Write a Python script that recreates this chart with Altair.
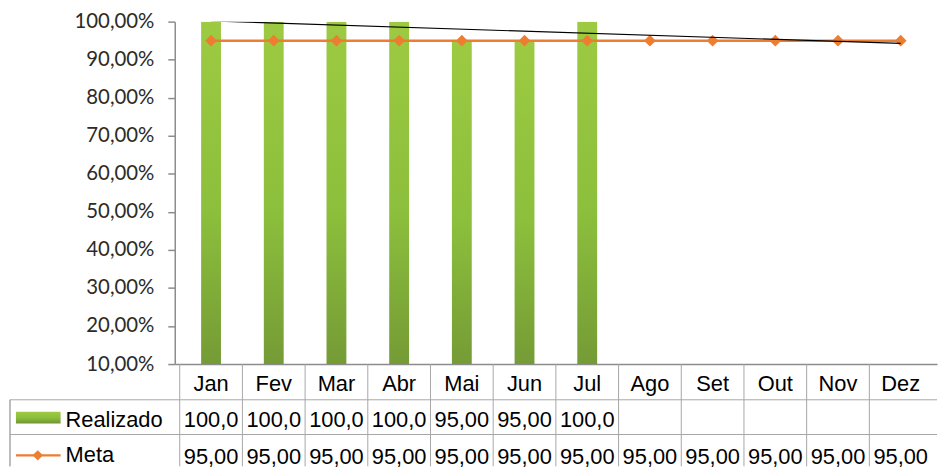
import altair as alt
import pandas as pd

months = ["Jan", "Fev", "Mar", "Abr", "Mai", "Jun", "Jul", "Ago", "Set", "Out", "Nov", "Dez"]
realizado = [100, 100, 100, 100, 95, 95, 100, None, None, None, None, None]
meta = [95, 95, 95, 95, 95, 95, 95, 95, 95, 95, 95, 95]
y_ticks = [10, 20, 30, 40, 50, 60, 70, 80, 90, 100]
series = ["Realizado", "Meta"]

df = pd.DataFrame({"mes": months, "idx": list(range(1, len(months) + 1)),
                   "realizado": realizado, "meta": meta})
rows_df = pd.DataFrame({"serie": series, "linha": list(range(len(series)))})

W, H = 768, 345
HEAD = 36          # header row height (month names)
ROW = 35           # data row height
BOTTOM = 448
LEFT = -166        # left edge of label column (relative to plot)

GREEN = alt.Gradient(
    gradient="linear",
    stops=[alt.GradientStop(color="#9dca42", offset=0),
           alt.GradientStop(color="#8cbf3c", offset=0.5),
           alt.GradientStop(color="#6f9234", offset=1)],
    x1=0, x2=0, y1=0, y2=1)
ORANGE = "#ed7d31"
GRID = "#a6a6a6"
AXIS = "#8c8c8c"
TFONT = "Liberation Sans"

xscale = alt.Scale(domain=[0.5, len(months) + 0.5], nice=False, zero=False)
xaxis = alt.Axis(labels=False, ticks=False, grid=False, title=None,
                 domainColor=AXIS, domainWidth=1.5)
yscale = alt.Scale(domain=[10, 100], nice=False, zero=False)
yaxis = alt.Axis(values=y_ticks, grid=False, title=None,
                 labelExpr="replace(format(datum.value, '.2f'), '.', ',') + '%'",
                 labelFont="Lato", labelFontSize=20.5, labelColor="#2b2b2b",
                 labelPadding=14, tickSize=7, tickColor=AXIS, tickWidth=1.5,
                 domainColor=AXIS, domainWidth=1.5)

X = alt.X("idx:Q", scale=xscale, axis=xaxis)

bars = alt.Chart(df).mark_bar(width=20, color=GREEN, clip=True).encode(
    x=X, y=alt.Y("realizado:Q", scale=yscale, axis=yaxis))

meta_line = alt.Chart(df).mark_line(color=ORANGE, strokeWidth=2.5).encode(
    x=X, y=alt.Y("meta:Q", scale=yscale, axis=yaxis))
meta_pts = alt.Chart(df).mark_point(shape="diamond", filled=True, size=140,
                                    color=ORANGE, opacity=1).encode(
    x=X, y=alt.Y("meta:Q", scale=yscale, axis=yaxis))

trend = alt.Chart(df).transform_filter("isValid(datum.realizado)").transform_regression(
    "idx", "realizado", extent=[1, len(months)]
).mark_line(color="black", strokeWidth=1.1, clip=True).encode(
    x=X, y=alt.Y("realizado:Q", scale=yscale, axis=yaxis))

# ---- data table under the plot ----
month_txt = alt.Chart(df).mark_text(font=TFONT, fontSize=22, baseline="alphabetic",
                                    align="center", color="black").encode(
    x=X, y=alt.value(H + 27), text="mes:N")

vlines = alt.Chart(df).transform_calculate(b="datum.idx - 0.5").mark_rule(
    color=GRID, strokeWidth=1).encode(
    x=alt.X("b:Q", scale=xscale, axis=xaxis), y=alt.value(H), y2=alt.value(BOTTOM))

hlines = alt.Chart(rows_df).transform_calculate(
    yp=f"{H + HEAD} + {ROW} * datum.linha").mark_rule(color=GRID, strokeWidth=1).encode(
    x=alt.value(LEFT), x2=alt.value(W), y=alt.Y("yp:Q", scale=None))

left_line = alt.Chart(rows_df).mark_rule(color=GRID, strokeWidth=1).encode(
    x=alt.value(LEFT), y=alt.value(H + HEAD), y2=alt.value(BOTTOM))

row_labels = alt.Chart(rows_df).transform_calculate(
    yp=f"{H + HEAD + 27} + {ROW + 1} * datum.linha").mark_text(
    font=TFONT, fontSize=22, baseline="alphabetic", align="left", color="black").encode(
    x=alt.value(LEFT + 56), y=alt.Y("yp:Q", scale=None), text="serie:N")

real_txt = alt.Chart(df).transform_filter("isValid(datum.realizado)").transform_calculate(
    t="substring(replace(format(datum.realizado, '.2f'), '.', ','), 0, 5)").mark_text(
    font=TFONT, fontSize=22, baseline="alphabetic", align="center", color="black").encode(
    x=X, y=alt.value(H + HEAD + 27), text="t:N")

meta_txt = alt.Chart(df).transform_calculate(
    t="substring(replace(format(datum.meta, '.2f'), '.', ','), 0, 5)").mark_text(
    font=TFONT, fontSize=22, baseline="alphabetic", align="center", color="black").encode(
    x=X, y=alt.value(H + HEAD + ROW + 30), text="t:N")

sw_real = alt.Chart(rows_df).transform_filter("datum.linha == 0").mark_rect(color=GREEN).encode(
    x=alt.value(LEFT + 6), x2=alt.value(LEFT + 51),
    y=alt.value(H + HEAD + 12), y2=alt.value(H + HEAD + 24))
sw_meta_line = alt.Chart(rows_df).transform_filter("datum.linha == 1").mark_rule(
    color=ORANGE, strokeWidth=2.5).encode(
    x=alt.value(LEFT + 6), x2=alt.value(LEFT + 51), y=alt.value(H + HEAD + ROW + 21))
sw_meta_pt = alt.Chart(rows_df).transform_filter("datum.linha == 1").mark_point(
    shape="diamond", filled=True, size=110, color=ORANGE, opacity=1).encode(
    x=alt.value(LEFT + 28), y=alt.value(H + HEAD + ROW + 21))

chart = alt.layer(
    vlines, hlines, left_line,
    bars, meta_line, meta_pts, trend,
    month_txt, row_labels, real_txt, meta_txt,
    sw_real, sw_meta_line, sw_meta_pt,
).properties(
    width=W, height=H,
    padding={"left": 1, "top": 2, "right": 0, "bottom": 0},
    background="white",
).configure_view(stroke=None)

chart.save("out.html", embed_options={"renderer": "svg", "actions": False})
